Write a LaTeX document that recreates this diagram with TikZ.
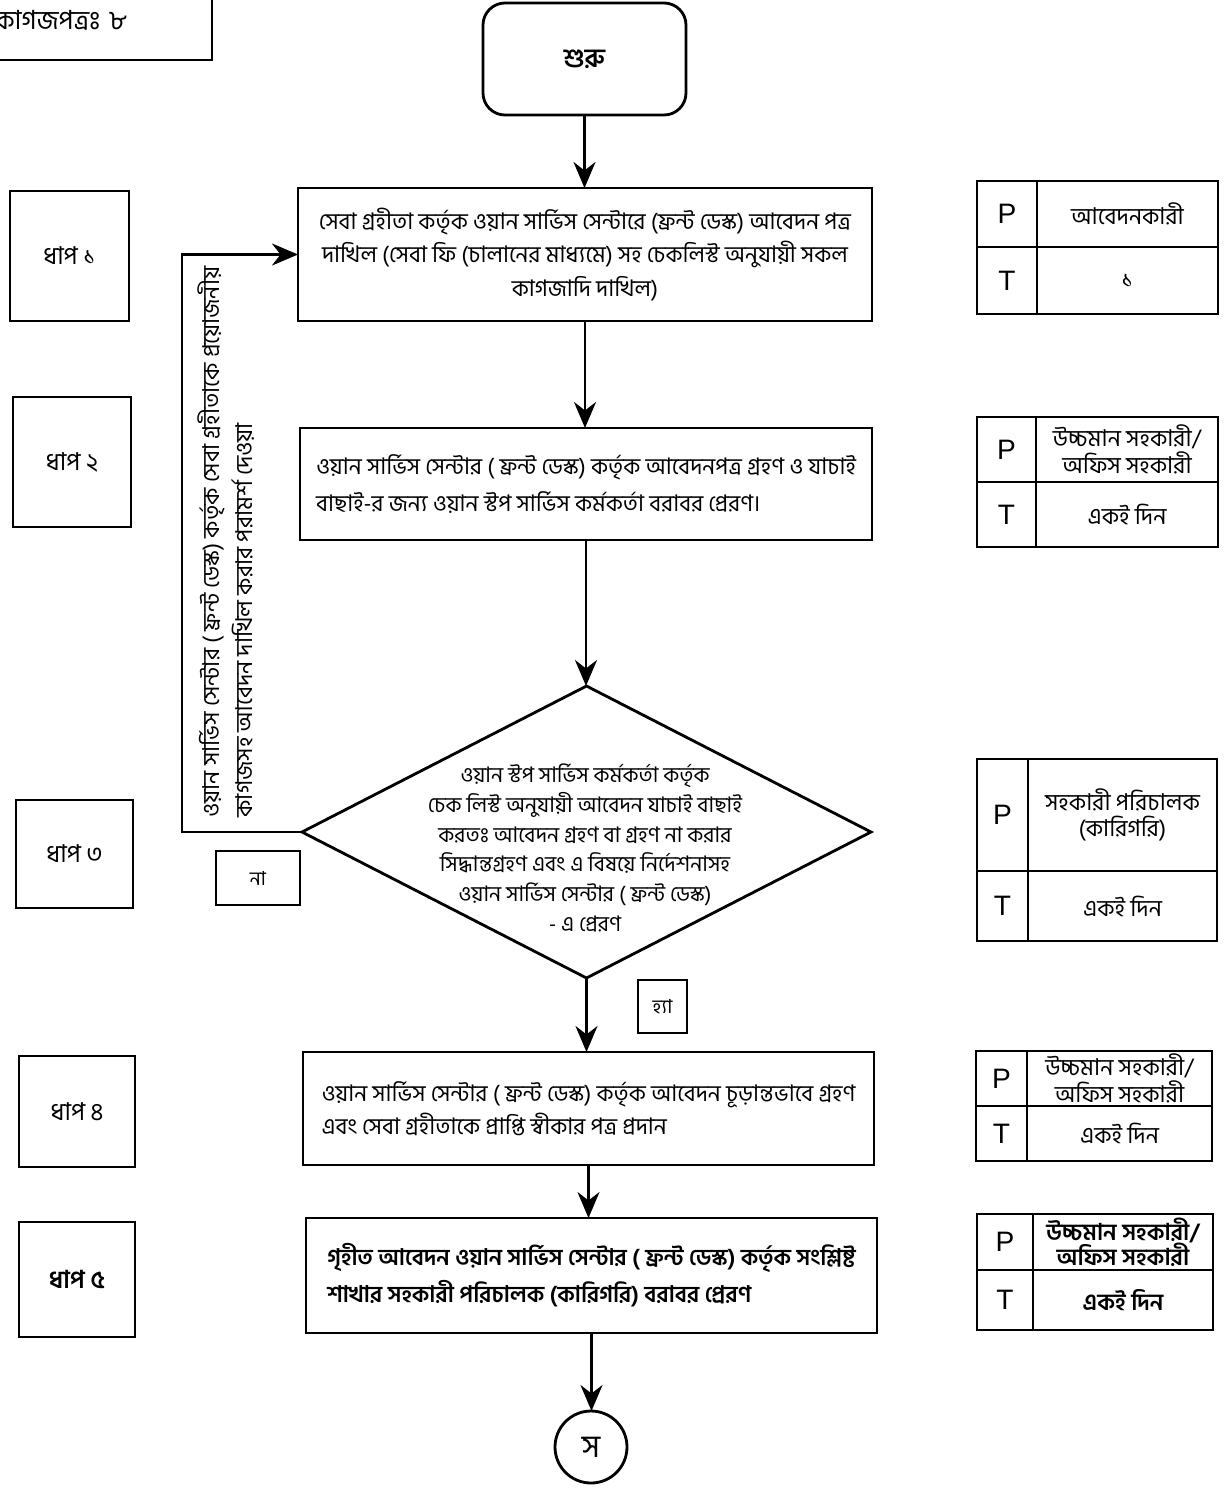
\documentclass[tikz,border=0pt]{standalone}
\usepackage{fontspec}
\newfontfamily\bn[Script=Bengali]{Hind Siliguri}
\newfontfamily\lat{Liberation Sans}
\usepackage{tikz}
\usetikzlibrary{shapes.geometric}
\usetikzlibrary{arrows.meta}
\usetikzlibrary{positioning}
\tikzset{
	flow/.style={>={Stealth[length=2.6mm,width=2.2mm]},thick},
	proc/.style={draw,thick,rectangle,inner sep=0pt,outer sep=0pt,
		font=\bn\fontsize{6.5}{9.5}\selectfont},
	startbox/.style={draw,thick,rectangle,rounded corners=0.22cm,inner sep=0pt,outer sep=0pt,
		font=\bn\bfseries\fontsize{7.5}{9}\selectfont},
	endcirc/.style={draw,thick,circle,inner sep=0pt,outer sep=0pt,
		font=\bn\fontsize{9}{11}\selectfont},
	decision/.style={draw,thick,diamond,inner sep=0pt,outer sep=0pt},
	dectext/.style={align=center,inner sep=0pt,font=\bn\fontsize{6.1}{8.5}\selectfont},
	stepbox/.style={draw,thick,rectangle,inner sep=0pt,outer sep=0pt,
		font=\bn\fontsize{7}{9}\selectfont},
	answer/.style={draw,thick,rectangle,inner sep=0pt,outer sep=0pt,
		font=\bn\fontsize{5.5}{7}\selectfont},
	cell/.style={draw,thick,rectangle,inner sep=1pt,outer sep=0pt,align=center,
		font=\bn\fontsize{6.6}{7.6}\selectfont},
	tag/.style={cell,font=\lat\fontsize{8}{9}\selectfont}
}

\begin{document}
\begin{tikzpicture}[flow]
	\useasboundingbox (0,0) rectangle (12.23,-14.95);

	% ==================================================
	% 1. PAGE TAG
	% ==================================================
	\node[draw,thick,minimum width=2.72cm,minimum height=0.8cm,text width=1.62cm,
		inner xsep=0.55cm,align=left,font=\bn\fontsize{7.5}{9}\selectfont]
		(doc) at (0.76,-0.20) {কাগজপত্রঃ ৮};

	% ==================================================
	% 2. MAIN FLOW
	% ==================================================
	\node[startbox,minimum width=2.03cm,minimum height=1.12cm] (start) at (5.845,-0.59) {শুরু};

	\node[proc,minimum width=5.74cm,minimum height=1.33cm,align=center] (apply) at (5.85,-2.545)
		{সেবা গ্রহীতা কর্তৃক ওয়ান সার্ভিস সেন্টারে (ফ্রন্ট ডেস্ক) আবেদন পত্র\\
		 দাখিল (সেবা ফি (চালানের মাধ্যমে) সহ চেকলিস্ট অনুযায়ী সকল\\
		 কাগজাদি দাখিল)};

	\node[proc,minimum width=5.72cm,minimum height=1.12cm,align=left] (receive) at (5.86,-4.84)
		{ওয়ান সার্ভিস সেন্টার ( ফ্রন্ট ডেস্ক) কর্তৃক আবেদনপত্র গ্রহণ ও যাচাই\\[1pt]
		 বাছাই-র জন্য ওয়ান স্টপ সার্ভিস কর্মকর্তা বরাবর প্রেরণ।};

	\node[decision,minimum width=5.69cm,minimum height=2.92cm] (check) at (5.865,-8.32) {};
	\node[dectext] (checktxt) at (5.85,-8.48)
		{ওয়ান স্টপ সার্ভিস কর্মকর্তা  কর্তৃক\\
		 চেক লিস্ট অনুযায়ী আবেদন যাচাই বাছাই\\
		 করতঃ আবেদন গ্রহণ বা গ্রহণ না করার\\
		 সিদ্ধান্তগ্রহণ এবং এ বিষয়ে নির্দেশনাসহ\\
		 ওয়ান সার্ভিস সেন্টার ( ফ্রন্ট ডেস্ক)\\
		 - এ প্রেরণ};

	\node[proc,minimum width=5.71cm,minimum height=1.13cm,align=left] (accept) at (5.885,-11.085)
		{ওয়ান সার্ভিস সেন্টার ( ফ্রন্ট ডেস্ক) কর্তৃক আবেদন চূড়ান্তভাবে গ্রহণ\\
		 এবং সেবা গ্রহীতাকে প্রাপ্তি স্বীকার পত্র প্রদান};

	\node[proc,minimum width=5.71cm,minimum height=1.15cm,align=left,
		font=\bn\bfseries\fontsize{6.5}{9.5}\selectfont] (forward) at (5.915,-12.755)
		{গৃহীত আবেদন ওয়ান সার্ভিস সেন্টার ( ফ্রন্ট ডেস্ক) কর্তৃক সংশ্লিষ্ট\\[1pt]
		 শাখার সহকারী পরিচালক (কারিগরি) বরাবর প্রেরণ};

	\node[endcirc,minimum size=0.72cm] (conn) at (5.91,-14.47) {স};

	% answers
	\node[answer,minimum width=0.84cm,minimum height=0.54cm] (no) at (2.58,-8.78) {না};
	\node[answer,minimum width=0.49cm,minimum height=0.53cm] (yes) at (6.625,-10.065) {হ্যা};

	% arrows
	\draw[->] (start.south) -- (start.south |- apply.north);
	\draw[->] (apply.south) -- (apply.south |- receive.north);
	\draw[->] (receive.south) -- (receive.south |- check.north);
	\draw[->] (check.south) -- (check.south |- accept.north);
	\draw[->] (accept.south) -- (accept.south |- forward.north);
	\draw[->] (forward.south) -- (forward.south |- conn.north);

	% back to applicant
	\coordinate (back) at (1.82,-8.32);
	\draw[->] (check.west) -- (back) |- (apply.west);
	\node[rotate=90,align=left,inner sep=0pt,font=\bn\fontsize{6.6}{9.2}\selectfont] (advice) at (2.26,-5.42)
		{ওয়ান সার্ভিস সেন্টার ( ফ্রন্ট ডেস্ক) কর্তৃক সেবা গ্রহীতাকে প্রয়োজনীয়\\
		 কাগজসহ আবেদন দাখিল করার পরামর্শ দেওয়া};

	% ==================================================
	% 3. STEP LABELS (LEFT)
	% ==================================================
	\node[stepbox,minimum width=1.19cm,minimum height=1.30cm] (s1) at (0.695,-2.56) {ধাপ ১};
	\node[stepbox,minimum width=1.18cm,minimum height=1.30cm] (s2) at (0.72,-4.62) {ধাপ ২};
	\node[stepbox,minimum width=1.17cm,minimum height=1.08cm] (s3) at (0.745,-8.54) {ধাপ ৩};
	\node[stepbox,minimum width=1.16cm,minimum height=1.11cm] (s4) at (0.77,-11.115) {ধাপ ৪};
	\node[stepbox,minimum width=1.16cm,minimum height=1.15cm,
		font=\bn\bfseries\fontsize{7}{9}\selectfont] (s5) at (0.77,-12.795) {ধাপ ৫};

	% ==================================================
	% 4. PERSON / TIME TABLES (RIGHT)
	% ==================================================
	% step 1
	\node[tag,minimum width=0.60cm,minimum height=0.66cm] (p1) at (10.07,-2.14) {P};
	\node[cell,right=0pt of p1,minimum width=1.81cm,minimum height=0.66cm] (p1v) {আবেদনকারী};
	\node[tag,below=0pt of p1,minimum width=0.60cm,minimum height=0.67cm] (t1) {T};
	\node[cell,right=0pt of t1,minimum width=1.81cm,minimum height=0.67cm] (t1v) {১};

	% step 2
	\node[tag,minimum width=0.59cm,minimum height=0.65cm] (p2) at (10.065,-4.495) {P};
	\node[cell,right=0pt of p2,minimum width=1.82cm,minimum height=0.65cm] (p2v) {উচ্চমান সহকারী/\\অফিস সহকারী};
	\node[tag,below=0pt of p2,minimum width=0.59cm,minimum height=0.65cm] (t2) {T};
	\node[cell,right=0pt of t2,minimum width=1.82cm,minimum height=0.65cm] (t2v) {একই দিন};

	% step 3
	\node[tag,minimum width=0.51cm,minimum height=1.12cm] (p3) at (10.025,-8.15) {P};
	\node[cell,right=0pt of p3,minimum width=1.89cm,minimum height=1.12cm] (p3v) {সহকারী পরিচালক\\(কারিগরি)};
	\node[tag,below=0pt of p3,minimum width=0.51cm,minimum height=0.70cm] (t3) {T};
	\node[cell,right=0pt of t3,minimum width=1.89cm,minimum height=0.70cm] (t3v) {একই দিন};

	% step 4
	\node[tag,minimum width=0.51cm,minimum height=0.55cm] (p4) at (10.015,-10.785) {P};
	\node[cell,right=0pt of p4,minimum width=1.85cm,minimum height=0.55cm,inner sep=0pt] (p4v) {উচ্চমান সহকারী/\\অফিস সহকারী};
	\node[tag,below=0pt of p4,minimum width=0.51cm,minimum height=0.55cm] (t4) {T};
	\node[cell,right=0pt of t4,minimum width=1.85cm,minimum height=0.55cm] (t4v) {একই দিন};

	% step 5
	\node[tag,minimum width=0.56cm,minimum height=0.56cm] (p5) at (10.05,-12.42) {P};
	\node[cell,right=0pt of p5,minimum width=1.80cm,minimum height=0.56cm,inner sep=0pt,
		font=\bn\bfseries\fontsize{6.6}{7.2}\selectfont] (p5v) {উচ্চমান সহকারী/\\অফিস সহকারী};
	\node[tag,below=0pt of p5,minimum width=0.56cm,minimum height=0.60cm] (t5) {T};
	\node[cell,right=0pt of t5,minimum width=1.80cm,minimum height=0.60cm,
		font=\bn\bfseries\fontsize{6.6}{7.6}\selectfont] (t5v) {একই দিন};

\end{tikzpicture}
\end{document}
